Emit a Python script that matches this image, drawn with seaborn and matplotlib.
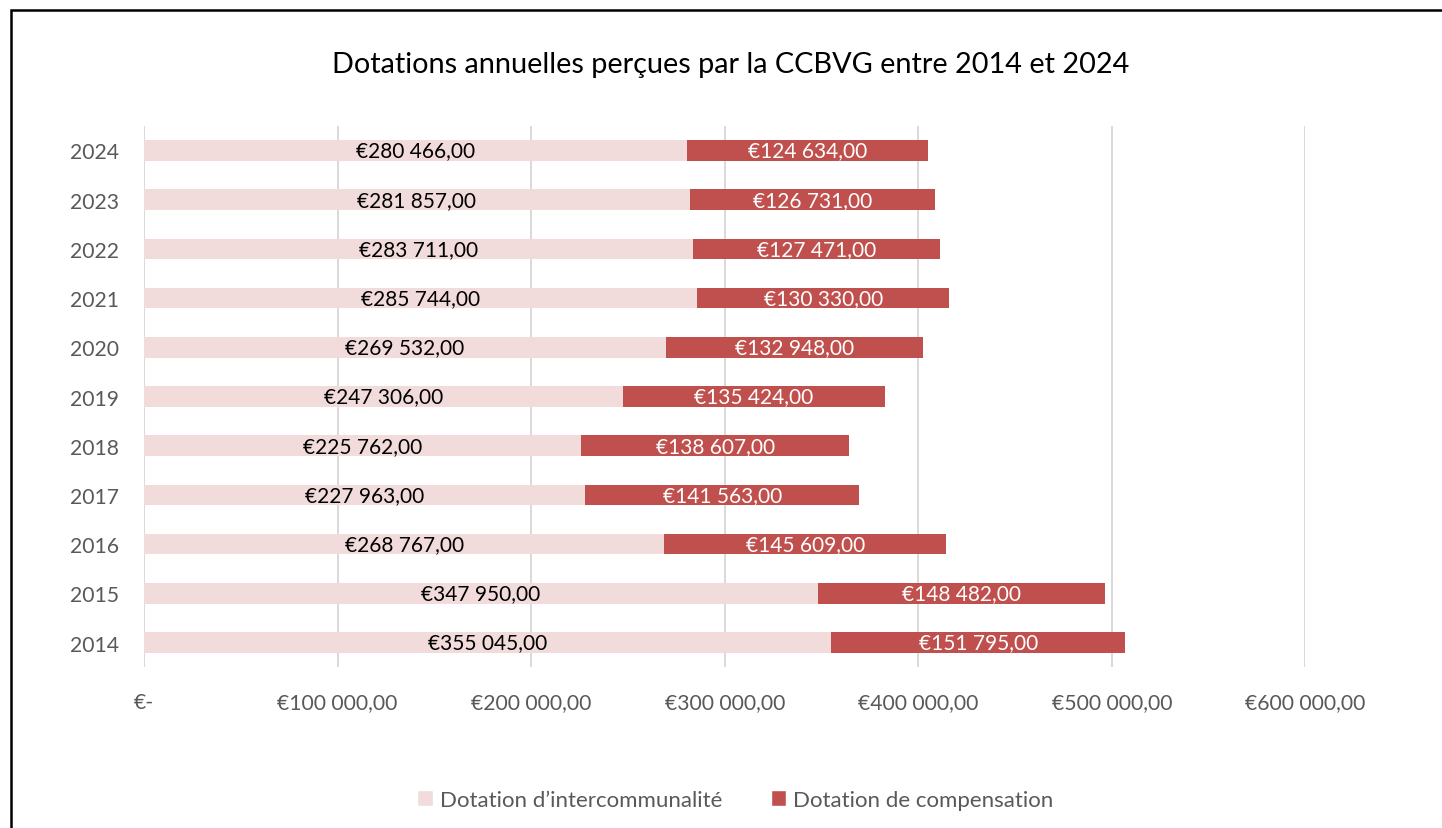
import pandas as pd
import numpy as np
import seaborn as sns
import matplotlib.pyplot as plt
from matplotlib.patches import Rectangle, Patch

# Annual allocations
years = ["2024", "2023", "2022", "2021", "2020", "2019", "2018", "2017", "2016", "2015", "2014"]
intercommunalite = [280466, 281857, 283711, 285744, 269532, 247306, 225762, 227963, 268767, 347950, 355045]
compensation = [124634, 126731, 127471, 130330, 132948, 135424, 138607, 141563, 145609, 148482, 151795]
x_ticks = [0, 100000, 200000, 300000, 400000, 500000, 600000]

pink = "#F2DCDB"
red = "#C0504D"
grey = "#595959"


def euro(v):
    if v == 0:
        return "€-"
    s = f"{v:,.2f}".replace(",", " ").replace(".", ",")
    return "€" + s


df = pd.DataFrame({"Annee": years, "Inter": intercommunalite, "Comp": compensation})
df["Total"] = df["Inter"] + df["Comp"]

sns.set_style("white")
plt.rcParams["font.family"] = ["Lato", "DejaVu Sans"]

fig = plt.figure(figsize=(14.42, 8.29), dpi=100)
ax = fig.add_axes([0.0999, 0.194, 0.8054, 0.653])

# stacked bars: total in red, intercommunality drawn over it
sns.barplot(data=df, y="Annee", x="Total", order=years, color=red, orient="h",
            width=0.42, saturation=1, ax=ax)
sns.barplot(data=df, y="Annee", x="Inter", order=years, color=pink, orient="h",
            width=0.42, saturation=1, ax=ax)
for k, p in enumerate(ax.patches):
    p.set_zorder(3 if k < len(years) else 4)
    p.set_linewidth(0)

for i, row in df.iterrows():
    ax.text(row["Inter"] / 2, i, euro(row["Inter"]), ha="center", va="center",
            fontsize=15, color="black", zorder=5)
    ax.text(row["Inter"] + row["Comp"] / 2, i, euro(row["Comp"]), ha="center", va="center",
            fontsize=15, color="white", zorder=5)

ax.set_xlim(0, 600000)
ax.set_ylim(10.5, -0.5)
ax.set_xticks(x_ticks)
ax.set_xticklabels([euro(v) for v in x_ticks])
ax.tick_params(axis="x", colors=grey, labelsize=15.2, length=0, pad=18)
ax.tick_params(axis="y", colors=grey, labelsize=15.2, length=0, pad=18)
ax.set_xlabel("")
ax.set_ylabel("")
ax.grid(axis="x", color="#D9D9D9", linewidth=1.4, zorder=0)
ax.set_axisbelow(True)
for s in ax.spines.values():
    s.set_visible(False)

fig.suptitle("Dotations annuelles perçues par la CCBVG entre 2014 et 2024",
             x=0.507, y=0.937, fontsize=20.8, color="black")

handles = [Patch(facecolor=pink, label="Dotation d\u2019intercommunalité"),
           Patch(facecolor=red, label="Dotation de compensation")]
fig.legend(handles=handles, loc="center", bbox_to_anchor=(0.510, 0.034), ncol=2,
           frameon=False, fontsize=16, labelcolor=grey, handlelength=0.7,
           handleheight=0.7, handletextpad=0.3, columnspacing=2.2)

# outer frame of the chart area
fig.patches.append(Rectangle((11 / 1442, -0.05), 1.1, 1 - 11 / 829 + 0.05,
                             transform=fig.transFigure, fill=False,
                             edgecolor="black", linewidth=1.8))

fig.savefig("out.png", dpi=100)
